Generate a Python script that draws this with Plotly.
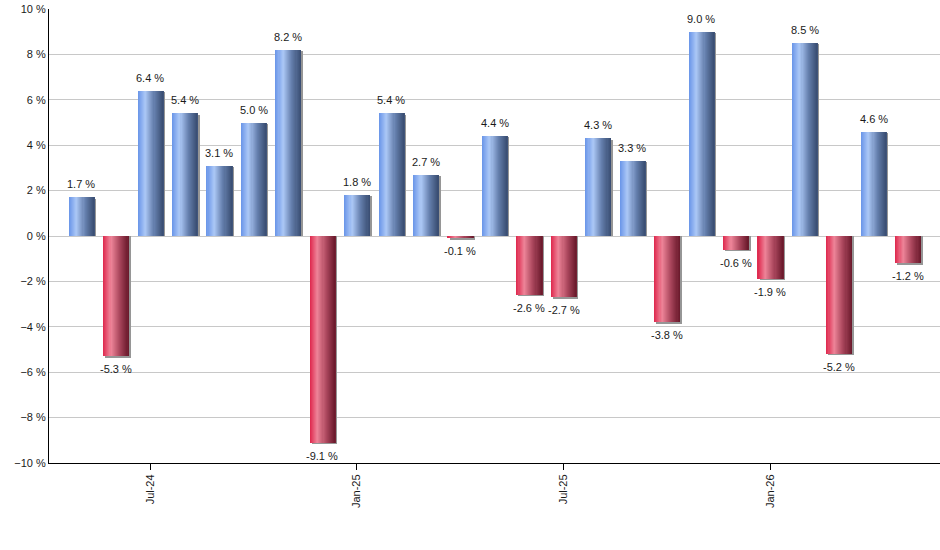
import plotly.graph_objects as go

months = ["May-24", "Jun-24", "Jul-24", "Aug-24", "Sep-24", "Oct-24", "Nov-24", "Dec-24",
          "Jan-25", "Feb-25", "Mar-25", "Apr-25", "May-25", "Jun-25", "Jul-25", "Aug-25",
          "Sep-25", "Oct-25", "Nov-25", "Dec-25", "Jan-26", "Feb-26", "Mar-26", "Apr-26", "May-26"]
returns = [1.7, -5.3, 6.4, 5.4, 3.1, 5.0, 8.2, -9.1, 1.8, 5.4, 2.7, -0.1, 4.4, -2.6, -2.7,
           4.3, 3.3, -3.8, 9.0, -0.6, -1.9, 8.5, -5.2, 4.6, -1.2]
tick_labels = ["Jul-24", "Jan-25", "Jul-25", "Jan-26"]

x = list(range(len(months)))
tick_positions = [months.index(t) for t in tick_labels]

BAR_W = 0.74
N_STRIPS = 24

blue_stops = [(0.0, (104, 148, 232)), (0.3, (172, 200, 246)), (0.65, (100, 126, 172)), (1.0, (56, 76, 112))]
red_stops = [(0.0, (222, 38, 76)), (0.3, (238, 132, 152)), (0.65, (170, 70, 92)), (1.0, (104, 24, 42))]


def grad(stops, t):
    for (t0, c0), (t1, c1) in zip(stops[:-1], stops[1:]):
        if t0 <= t <= t1:
            f = (t - t0) / (t1 - t0)
            c = [round(a + (b - a) * f) for a, b in zip(c0, c1)]
            return "rgb(%d,%d,%d)" % tuple(c)
    return "rgb(%d,%d,%d)" % stops[-1][1]


fig = go.Figure()

# shadow
shadow_y = [v - 0.06 if v < 0 else v - 0.05 for v in returns]
fig.add_trace(go.Bar(
    x=x, y=shadow_y, width=BAR_W, offset=-BAR_W / 2 + 0.06,
    marker=dict(color="rgb(150,150,150)", line=dict(width=0)),
    hoverinfo="skip", showlegend=False))

sw = BAR_W / N_STRIPS
for i in range(N_STRIPS):
    t = (i + 0.5) / N_STRIPS
    colors = [grad(blue_stops, t) if v >= 0 else grad(red_stops, t) for v in returns]
    extra = 0.05 if i < N_STRIPS - 1 else 0.0
    fig.add_trace(go.Bar(
        x=x, y=returns, width=sw + extra, offset=-BAR_W / 2 + i * sw,
        marker=dict(color=colors, line=dict(width=0)),
        hoverinfo="skip", showlegend=False))

annotations = []
for xi, v in zip(x, returns):
    annotations.append(dict(
        x=xi, y=v, xref="x", yref="y", text="%.1f %%" % v, showarrow=False,
        yanchor="bottom" if v >= 0 else "top", yshift=5 if v >= 0 else -5,
        font=dict(family="Liberation Sans, Arial", size=11, color="#1a1a1a")))

fig.update_layout(
    width=940, height=550,
    margin=dict(l=49, r=0, t=9, b=87),
    paper_bgcolor="white", plot_bgcolor="white",
    barmode="overlay", bargap=0,
    font=dict(family="Liberation Sans, Arial", size=11, color="#1a1a1a"),
    annotations=annotations,
    xaxis=dict(
        range=[-0.94, 24.93], tickmode="array", tickvals=tick_positions, ticktext=tick_labels,
        tickangle=-90, ticks="outside", ticklen=6, tickcolor="black",
        showline=True, linecolor="black", linewidth=1, showgrid=False, zeroline=False,
        tickfont=dict(size=11)),
    yaxis=dict(
        range=[-10, 10], dtick=2, tick0=0, ticksuffix=" %",
        showline=True, linecolor="black", linewidth=1,
        showgrid=True, gridcolor="#c8c8c8", gridwidth=1,
        zeroline=True, zerolinecolor="#c8c8c8", zerolinewidth=1,
        ticks="", tickfont=dict(size=11)),
)

fig.write_html("out.html", config={"displayModeBar": False, "staticPlot": True},
               post_script="document.body.style.margin='0';document.body.style.overflow='hidden';")
